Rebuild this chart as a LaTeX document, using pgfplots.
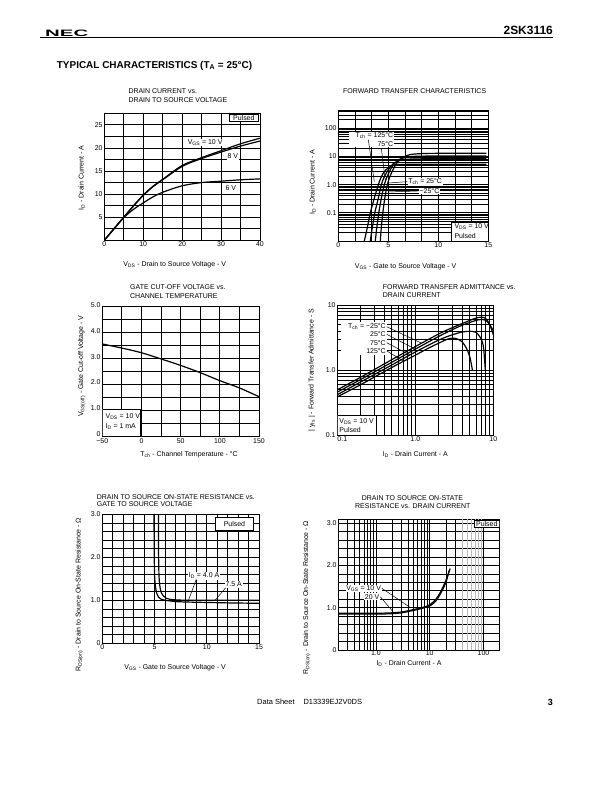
\documentclass[border=0pt]{standalone}
\usepackage{fontspec}
\setmainfont{Liberation Sans}
\usepackage{pgfplots}
\pgfplotsset{compat=1.18}

\newcommand\cf{\fontsize{7}{8}\selectfont}
\newcommand\sub[1]{\textsubscript{#1}}
\newcommand\m[1]{\mbox{#1}}
\newcommand\T[3]{\node[anchor=west,font=\cf,inner sep=0] at (#1bp,-#2bp) {#3};}

\tikzset{lbl/.style={font=\cf, inner sep=0.8pt, fill=white}}
\pgfplotsset{
  ds/.style={
    scale only axis, anchor=south west,
    axis line style={line width=1pt},
    grid=both,
    major grid style={line width=0.8pt, black},
    minor grid style={line width=0.8pt, black},
    major tick length=0pt, minor tick length=0pt,
    tick label style={font=\cf, inner sep=1.5pt},
    label style={font=\cf, anchor=center},
    every axis plot/.append style={line width=1.2pt, black, no markers},
  },
}

\begin{document}
\begin{tikzpicture}
\fill[white] (0,0) rectangle (612bp,-792bp);
\path[use as bounding box] (0,0) rectangle (612bp,-792bp);

% page header
\node[anchor=west,inner sep=0] at (45bp,-33bp) {\scalebox{2.2}[1]{\fontsize{9.3}{10}\selectfont\bfseries NEC}};
\node[anchor=east,inner sep=0,font=\fontsize{12}{12}\selectfont\bfseries] at (553bp,-30bp) {2SK3116};
\draw[line width=0.8pt] (40bp,-37.5bp) -- (553bp,-37.5bp);
\node[anchor=west,inner sep=0,font=\fontsize{10}{11}\selectfont\bfseries] at (56.7bp,-65.5bp) {TYPICAL CHARACTERISTICS (T\sub{A} = 25°C)};

% titles
\T{128.3}{91}{DRAIN CURRENT vs.}
\T{128.3}{100}{DRAIN TO SOURCE VOLTAGE}
\T{343}{91}{FORWARD TRANSFER CHARACTERISTICS}
\T{130}{287.3}{GATE CUT-OFF VOLTAGE vs.}
\T{130}{296}{CHANNEL TEMPERATURE}
\T{382.7}{286.7}{FORWARD TRANSFER ADMITTANCE vs.}
\T{382.7}{295}{DRAIN CURRENT}
\T{96.7}{496.7}{DRAIN TO SOURCE ON-STATE RESISTANCE vs.}
\T{96.7}{504.5}{GATE TO SOURCE VOLTAGE}
\T{361.7}{498.3}{DRAIN TO SOURCE ON-STATE}
\T{355}{506.3}{RESISTANCE vs. DRAIN CURRENT}

% footer
\node[anchor=west,inner sep=0,font=\fontsize{7.5}{8}\selectfont] at (257bp,-702bp) {Data Sheet\hspace{1.2em}D13339EJ2V0DS};
\node[anchor=east,inner sep=0,font=\fontsize{9}{9}\selectfont\bfseries] at (553bp,-702bp) {3};

% ---- chart 1: ID vs VDS
\begin{axis}[ds, at={(104.3bp,-240.3bp)}, width=155.7bp, height=127bp,
  xmin=0, xmax=40, ymin=0, ymax=27.5,
  xtick={0,10,20,30,40}, xticklabels={\m{0},\m{10},\m{20},\m{30},\m{40}},
  minor xtick={5,15,25,35},
  ytick={5,10,15,20,25}, yticklabels={\m{5},\m{10},\m{15},\m{20},\m{25}},
  minor ytick={2.5,7.5,12.5,17.5,22.5},
  xlabel={V\sub{DS} - Drain to Source Voltage - V},
  ylabel={I\sub{D} - Drain Current - A},
  xlabel style={at={(axis description cs:0.452,-0.194)}},
  ylabel style={at={(axis description cs:-0.145,0.49)}}]
\addplot[smooth] coordinates {(0,0) (2.5,2.5) (5,5) (7.5,7.5) (10,9.8) (12.5,11.7) (15,13.2) (20,16.2) (25,17.9) (30,19.4) (35,20.9) (40,22.1)};
\addplot[smooth] coordinates {(0,0) (2.5,2.5) (5,5) (7.5,7.4) (10,9.7) (12.5,11.6) (15,13.1) (20,16.0) (25,17.7) (30,19.1) (35,20.4) (40,21.5)};
\addplot[smooth] coordinates {(0,0) (2.5,2.5) (5,4.9) (7.5,6.7) (10,8.1) (12.5,9.4) (15,10.4) (20,11.8) (25,12.5) (30,12.8) (35,13.1) (40,13.3)};
\draw[fill=white,line width=0.7pt] (axis cs:32.1,25.8) rectangle (axis cs:39.6,27.3);
\node[font=\cf,inner sep=0] at (axis cs:35.85,26.55) {Pulsed};
\node[lbl] at (axis cs:25.9,21.2) {V\sub{GS} = 10 V};
\node[lbl] at (axis cs:33,18.2) {8 V};
\node[lbl] at (axis cs:32.5,11.2) {6 V};
\end{axis}

% ---- chart 2: forward transfer
\begin{axis}[ds, at={(338.3bp,-241bp)}, width=150bp, height=131bp,
  xmin=0, xmax=15, ymode=log, ymin=0.01, ymax=450,
  xtick={0,5,10,15}, xticklabels={\m{0},\m{5},\m{10},\m{15}},
  minor xtick={1.667,3.333,6.667,8.333,11.667,13.333},
  ytick={0.01,0.1,1,10,100}, yticklabels={,\m{0.1},\m{1.0},\m{10},\m{100}},
  minor ytick={0.02,0.03,0.04,0.05,0.06,0.07,0.08,0.09,0.2,0.3,0.4,0.5,0.6,0.7,0.8,0.9,2,3,4,5,6,7,8,9,20,30,40,50,60,70,80,90,200,300,400},
  y grid style={line width=0.9pt},
  xlabel={V\sub{GS} - Gate to Source Voltage - V},
  ylabel={I\sub{D} - Drain Current - A},
  xlabel style={at={(axis description cs:0.449,-0.196)}},
  ylabel style={at={(axis description cs:-0.171,0.447)}}]
\addplot[smooth, tension=0.5] coordinates {(2.6,0.01) (2.9,0.03) (3.2,0.1) (3.6,0.33) (4.0,1.0) (4.3,1.9) (4.6,2.9) (5.0,4.0) (5.5,4.9) (6.0,5.2) (7,5.3) (9,5.3) (14.8,5.3)};
\addplot[smooth, tension=0.5] coordinates {(3.2,0.01) (3.4,0.03) (3.65,0.1) (4.0,0.33) (4.3,1.0) (4.6,1.9) (5.0,3.4) (5.5,5.6) (6.0,7.0) (6.5,7.8) (7.5,8.2) (9,8.3) (14.8,8.3)};
\addplot[smooth, tension=0.5] coordinates {(3.7,0.01) (3.85,0.03) (4.05,0.1) (4.3,0.33) (4.6,1.0) (4.9,2.0) (5.3,3.9) (5.7,6.0) (6.2,8.2) (7,9.7) (8,10.3) (10,10.4) (14.8,10.4)};
\addplot[smooth, tension=0.5] coordinates {(4.2,0.01) (4.3,0.03) (4.45,0.1) (4.65,0.33) (4.9,1.0) (5.2,2.1) (5.6,4.2) (6.0,6.8) (6.5,9.5) (7.2,11.8) (8.5,12.8) (10,13) (14.8,13)};
\fill[white] (axis cs:1.1,22) rectangle (axis cs:5.6,72);
\node[font=\cf,inner sep=0,anchor=east] at (axis cs:5.5,55) {T\sub{ch} = 125°C};
\node[font=\cf,inner sep=0,anchor=east] at (axis cs:5.5,27) {75°C};
\draw[line width=0.5pt] (axis cs:3.0,40) -- (axis cs:3.6,1.3);
\draw[line width=0.5pt] (axis cs:4.3,20) -- (axis cs:4.7,1.4);
\node[lbl,anchor=west] (a) at (axis cs:6.9,1.28) {T\sub{ch} = 25°C};
\node[lbl,anchor=east] (b) at (axis cs:10.2,0.6) {−25°C};
\draw[line width=0.5pt] (a.west) -- (axis cs:5.0,1.15);
\draw[line width=0.5pt] (b.west) -- (axis cs:4.95,0.55);
\draw[fill=white,line width=0.7pt] (axis cs:11.3,0.01) rectangle (axis cs:15,0.046);
\node[font=\cf,inner sep=0,anchor=west] at (axis cs:11.6,0.032) {V\sub{DS} = 10 V};
\node[font=\cf,inner sep=0,anchor=west] at (axis cs:11.6,0.0155) {Pulsed};
\end{axis}

% ---- chart 3: gate cut-off voltage
\begin{axis}[ds, at={(102.3bp,-436bp)}, width=156.7bp, height=129.3bp,
  xmin=-50, xmax=150, ymin=0, ymax=5,
  xtick={-50,0,50,100,150}, xticklabels={\m{−50},\m{0},\m{50},\m{100},\m{150}},
  minor xtick={-25,25,75,125},
  ytick={0,1,2,3,4,5}, yticklabels={\m{0},\m{1.0},\m{2.0},\m{3.0},\m{4.0},\m{5.0}},
  minor ytick={0.5,1.5,2.5,3.5,4.5},
  yticklabel style={yshift=1.8bp}, xticklabel style={yshift=-0.5bp},
  xlabel={T\sub{ch} - Channel Temperature - °C},
  ylabel={V\sub{GS(off)} - Gate Cut-off Voltage - V},
  xlabel style={at={(axis description cs:0.554,-0.142)}},
  ylabel style={at={(axis description cs:-0.131,0.539)}}]
\addplot[smooth] coordinates {(-50,3.56) (-25,3.40) (0,3.22) (25,2.98) (50,2.73) (75,2.45) (100,2.14) (125,1.86) (150,1.52)};
\draw[fill=white,line width=0.7pt] (axis cs:-50,0) rectangle (axis cs:-1,1.03);
\node[font=\cf,inner sep=0,anchor=west] at (axis cs:-46,0.75) {V\sub{DS} = 10 V};
\node[font=\cf,inner sep=0,anchor=west] at (axis cs:-46,0.36) {I\sub{D} = 1 mA};
\end{axis}

% ---- chart 4: forward transfer admittance
\begin{axis}[ds, at={(337.3bp,-435.3bp)}, width=156bp, height=130.3bp,
  xmode=log, ymode=log, xmin=0.1, xmax=10, ymin=0.1, ymax=10,
  xtick={0.1,1,10}, xticklabels={\m{\hspace{10pt}0.1},\m{1.0},\m{10}},
  ytick={0.1,1,10}, yticklabels={\m{0.1},\m{1.0},\m{10}},
  minor xtick={0.2,0.3,0.4,0.5,0.6,0.7,0.8,0.9,2,3,4,5,6,7,8,9},
  minor ytick={0.2,0.3,0.4,0.5,0.6,0.7,0.8,0.9,2,3,4,5,6,7,8,9},
  xlabel={I\sub{D} - Drain Current - A},
  ylabel={| y\sub{fs} | - Forward Transfer Admittance - S},
  xlabel style={at={(axis description cs:0.5,-0.144)}},
  ylabel style={at={(axis description cs:-0.164,0.5)}}]
\addplot[smooth, tension=0.5] coordinates {(0.1,0.50) (0.2,0.78) (0.5,1.45) (1,2.3) (2,3.6) (3,4.5) (4,5.2) (5,5.8) (6,6.3) (7,6.5) (8,6.2) (9,5.0) (10,3.5)};
\addplot[smooth, tension=0.5] coordinates {(0.1,0.46) (0.2,0.72) (0.5,1.32) (1,2.1) (2,3.3) (3,4.2) (4,4.9) (5,5.4) (6,5.8) (7,6.0) (8,5.8) (9,5.0) (10,4.0)};
\addplot[smooth, tension=0.5] coordinates {(0.1,0.42) (0.2,0.66) (0.5,1.2) (1,1.9) (2,2.9) (3,3.5) (4,3.85) (5,3.95) (6,3.8) (7,3.0) (7.5,2.2) (7.9,1.0)};
\addplot[smooth, tension=0.5] coordinates {(0.1,0.39) (0.2,0.6) (0.5,1.1) (1,1.7) (1.5,2.2) (2,2.6) (2.6,3.0) (3,3.1) (3.5,3.0) (4,2.7) (4.5,2.2) (5,1.6) (5.4,1.0)};
\fill[white] (axis cs:0.11,1.7) rectangle (axis cs:0.43,5.5);
\node[font=\cf,inner sep=0,anchor=east] at (axis cs:0.42,4.64) {T\sub{ch} = −25°C};
\node[font=\cf,inner sep=0,anchor=east] at (axis cs:0.42,3.55) {25°C};
\node[font=\cf,inner sep=0,anchor=east] at (axis cs:0.42,2.64) {75°C};
\node[font=\cf,inner sep=0,anchor=east] at (axis cs:0.42,1.98) {125°C};
\draw[line width=0.5pt] (axis cs:0.43,4.64) -- (axis cs:1.2,2.6);
\draw[line width=0.5pt] (axis cs:0.43,3.55) -- (axis cs:1.0,2.1);
\draw[line width=0.5pt] (axis cs:0.43,2.64) -- (axis cs:0.85,1.72);
\draw[line width=0.5pt] (axis cs:0.43,1.98) -- (axis cs:0.7,1.38);
\draw[fill=white,line width=0.7pt] (axis cs:0.1,0.1) rectangle (axis cs:0.32,0.205);
\node[font=\cf,inner sep=0,anchor=west] at (axis cs:0.106,0.162) {V\sub{DS} = 10 V};
\node[font=\cf,inner sep=0,anchor=west] at (axis cs:0.106,0.119) {Pulsed};
\end{axis}

% ---- chart 5: RDS(on) vs VGS
\begin{axis}[ds, at={(102.3bp,-643.3bp)}, width=156.7bp, height=129bp,
  xmin=0, xmax=15, ymin=0, ymax=3,
  xtick={0,5,10,15}, xticklabels={\m{0},\m{5},\m{10},\m{15}},
  minor xtick={1,2,3,4,6,7,8,9,11,12,13,14},
  ytick={0,1,2,3}, yticklabels={\m{0},\m{1.0},\m{2.0},\m{3.0}},
  minor ytick={0.2,0.4,0.6,0.8,1.2,1.4,1.6,1.8,2.2,2.4,2.6,2.8},
  xlabel={V\sub{GS} - Gate to Source Voltage - V},
  ylabel={R\sub{DS(on)} - Drain to Source On-State Resistance - Ω},
  xlabel style={at={(axis description cs:0.464,-0.189)}},
  ylabel style={at={(axis description cs:-0.147,0.376)}}]
\addplot[black, line width=1.2pt] coordinates {(4.95,3.0) (4.97,2.0) (5.0,1.6) (5.05,1.4) (5.12,1.26) (5.22,1.15) (5.4,1.07) (5.6,1.03) (6,1.0) (7,0.97) (8,0.96) (10,0.95) (12,0.94) (15,0.93)};
\addplot[black, line width=1.2pt] coordinates {(5.37,3.0) (5.39,2.0) (5.42,1.6) (5.47,1.4) (5.55,1.27) (5.66,1.17) (5.85,1.1) (6.1,1.05) (6.5,1.02) (7,1.01) (8,1.0) (10,1.0) (15,1.0)};
\draw[fill=white,line width=0.7pt] (axis cs:10.8,2.63) rectangle (axis cs:14.5,2.94);
\node[font=\cf,inner sep=0] at (axis cs:12.65,2.785) {Pulsed};
\node[lbl,anchor=west] at (axis cs:8.2,1.57) {I\sub{D} = 4.0 A};
\node[lbl,anchor=west] at (axis cs:11.7,1.37) {7.5 A};
\draw[line width=0.5pt] (axis cs:9.0,1.49) -- (axis cs:8.2,0.97);
\draw[line width=0.5pt] (axis cs:11.8,1.29) -- (axis cs:10.8,1.0);
\end{axis}

% ---- chart 6: RDS(on) vs ID
\begin{axis}[ds, at={(338.3bp,-650bp)}, width=161.4bp, height=131bp,
  xmode=log, xmin=0.2, xmax=200, ymin=0, ymax=3.1,
  xtick={1,10,100}, xticklabels={\m{1.0},\m{10},\m{100}},
  minor xtick={0.3,0.4,0.5,0.6,0.7,0.8,0.9,2,3,4,5,6,7,8,9,20,30},
  extra x ticks={40,50,60,70,80,90}, extra x tick labels={},
  extra x tick style={grid=major, major grid style={gray!55, line width=0.9pt}},
  ytick={0,1,2,3}, yticklabels={\m{0},\m{1.0},\m{2.0},\m{3.0}},
  minor ytick={0.2,0.4,0.6,0.8,1.2,1.4,1.6,1.8,2.2,2.4,2.6,2.8},
  xticklabel style={yshift=1.5bp},
  xlabel={I\sub{D} - Drain Current - A},
  ylabel={R\sub{DS(on)} - Drain to Source On-State Resistance - Ω},
  xlabel style={at={(axis description cs:0.438,-0.102)}},
  ylabel style={at={(axis description cs:-0.196,0.40)}}]
\addplot[smooth, tension=0.5] coordinates {(0.2,0.87) (1,0.87) (2,0.88) (3,0.9) (4,0.93) (6,0.98) (8,1.02) (10,1.07) (13,1.2) (16,1.38) (20,1.65) (24,1.93)};
\addplot[smooth, tension=0.5] coordinates {(0.2,0.85) (1,0.85) (2,0.86) (3,0.88) (4,0.91) (6,0.96) (8,1.0) (10,1.04) (13,1.16) (16,1.34) (20,1.6) (23,1.88)};
\draw[fill=white,line width=0.7pt] (axis cs:67,2.91) rectangle (axis cs:199,3.06);
\node[font=\cf,inner sep=0] at (axis cs:115,2.985) {Pulsed};
\node[lbl,anchor=west] (c) at (axis cs:0.27,1.46) {V\sub{GS} = 10 V};
\node[lbl,anchor=west] (d) at (axis cs:0.6,1.26) {20 V};
\draw[line width=0.5pt] (c.east) -- (axis cs:4.3,1.01);
\draw[line width=0.5pt] (d.east) -- (axis cs:2.1,0.9);
\end{axis}
\end{tikzpicture}
\end{document}
